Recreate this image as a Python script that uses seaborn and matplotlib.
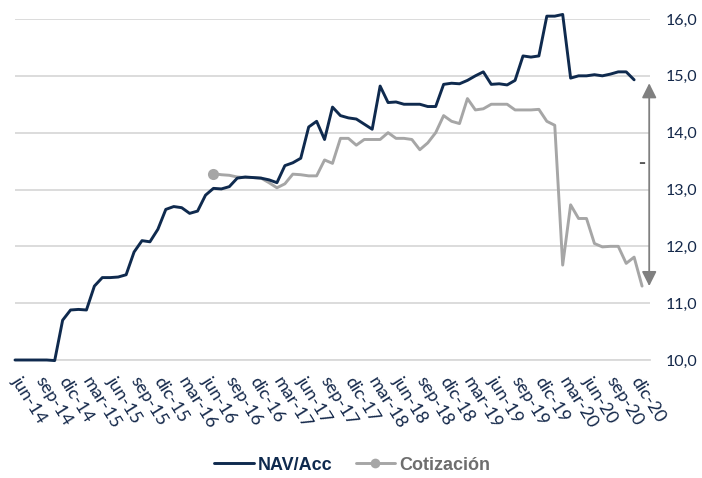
import numpy as np
import pandas as pd
import seaborn as sns
import matplotlib.pyplot as plt
from matplotlib.lines import Line2D
from matplotlib.legend_handler import HandlerLine2D

# monthly values, month 0 = jun-14
nav_values = [10.0, 10.0, 10.0, 10.0, 10.0, 9.99, 10.7, 10.88, 10.89, 10.88,
              11.3, 11.45, 11.45, 11.46, 11.5, 11.9, 12.1, 12.08, 12.3, 12.65,
              12.7, 12.68, 12.58, 12.62, 12.9, 13.02, 13.01, 13.05, 13.2, 13.22,
              13.21, 13.2, 13.17, 13.12, 13.42, 13.47, 13.55, 14.1, 14.2, 13.88,
              14.45, 14.3, 14.26, 14.24, 14.15, 14.06, 14.82, 14.53, 14.54, 14.5,
              14.5, 14.5, 14.46, 14.46, 14.85, 14.87, 14.86, 14.92, 15.0, 15.07,
              14.85, 14.86, 14.84, 14.92, 15.35, 15.33, 15.35, 16.05, 16.05, 16.08,
              14.96, 15.0, 15.0, 15.02, 15.0, 15.03, 15.07, 15.07, 14.93]

# Cotización starts at month 25
cot_start = 25
cot_values = [13.28, 13.26, 13.25, 13.22, 13.21, 13.21, 13.2, 13.12, 13.03, 13.1,
              13.27, 13.26, 13.24, 13.24, 13.52, 13.46, 13.9, 13.9, 13.78, 13.88,
              13.88, 13.88, 14.0, 13.9, 13.9, 13.88, 13.7, 13.82, 14.0, 14.3,
              14.2, 14.16, 14.6, 14.4, 14.42, 14.5, 14.5, 14.5, 14.4, 14.4,
              14.4, 14.41, 14.2, 14.13, 11.67, 12.73, 12.49, 12.49, 12.05, 11.99,
              12.0, 12.0, 11.7, 11.81, 11.3]

tick_labels = ["jun-14", "sep-14", "dic-14", "mar-15", "jun-15", "sep-15", "dic-15",
               "mar-16", "jun-16", "sep-16", "dic-16", "mar-17", "jun-17", "sep-17",
               "dic-17", "mar-18", "jun-18", "sep-18", "dic-18", "mar-19", "jun-19",
               "sep-19", "dic-19", "mar-20", "jun-20", "sep-20", "dic-20"]

nav_df = pd.DataFrame({"mes": np.arange(len(nav_values)), "valor": nav_values})
cot_df = pd.DataFrame({"mes": np.arange(cot_start, cot_start + len(cot_values)),
                       "valor": cot_values})

navy = "#0F2A4E"
gray = "#A6A6A6"
grid = "#D9D9D9"

sns.set_style("white")
plt.rcParams["font.family"] = ["Lato", "DejaVu Sans"]

fig = plt.figure(figsize=(7.02, 4.78), dpi=100)
ax = fig.add_axes([15 / 702, 1 - 360 / 478, 635 / 702, 341 / 478])

sns.lineplot(data=nav_df, x="mes", y="valor", ax=ax, color=navy, lw=2.1,
             clip_on=False, zorder=4)
sns.lineplot(data=cot_df, x="mes", y="valor", ax=ax, color=gray, lw=2.1,
             marker="o", markersize=8, markevery=[0], markeredgewidth=0,
             clip_on=False, zorder=3)

ax.set_xlim(0, 80)
ax.set_ylim(10, 16)
ax.set_yticks(np.arange(10, 16.5, 1))
ax.set_yticklabels([f"{v:.1f}".replace(".", ",") for v in np.arange(10, 16.5, 1)])
ax.yaxis.tick_right()
ax.tick_params(axis="y", length=0, pad=11, labelsize=11.5, labelcolor="#14284A")
ax.grid(axis="y", color=grid, lw=1.3)
ax.set_axisbelow(True)

ax.set_xticks(np.arange(0, 79, 3))
ax.set_xticklabels(tick_labels, rotation=-58, ha="left", va="center",
                   rotation_mode="anchor")
ax.tick_params(axis="x", length=5, width=1.3, color=grid, pad=8,
               labelsize=13, labelcolor="#14284A")
ax.set_xlabel("")
ax.set_ylabel("")
for side in ["top", "left", "right"]:
    ax.spines[side].set_visible(False)
ax.spines["bottom"].set_color(grid)
ax.spines["bottom"].set_linewidth(1.3)

# discount arrow between NAV and price
ax.annotate("", xy=(79.9, 11.3), xytext=(79.9, 14.87),
            arrowprops=dict(arrowstyle="<|-|>", color="#808080", lw=1.3,
                            mutation_scale=22, shrinkA=0, shrinkB=0),
            annotation_clip=False)
ax.text(79.0, 13.48, "-", color="#595959", fontsize=15, fontweight="bold",
        family=["Liberation Sans", "DejaVu Sans"], ha="center", va="center")


class LeftMarker(HandlerLine2D):
    def get_xdata(self, legend, xdescent, ydescent, width, height, fontsize):
        return [-xdescent, -xdescent + width], [-xdescent]


h_nav = Line2D([], [], color=navy, lw=2.1)
h_cot = Line2D([], [], color=gray, lw=2.1, marker="o", markersize=7,
               markeredgewidth=0)
leg = fig.legend([h_nav, h_cot], ["NAV/Acc", "Cotización"], loc="center",
                 bbox_to_anchor=(352 / 702, 1 - 465 / 478), ncol=2, frameon=False,
                 handlelength=2.2, handletextpad=0.2, columnspacing=1.3,
                 prop={"family": ["Liberation Sans", "DejaVu Sans"],
                       "weight": "bold", "size": 13},
                 handler_map={h_cot: LeftMarker()})
leg.get_texts()[0].set_color(navy)
leg.get_texts()[1].set_color("#6E6E6E")

plt.savefig("out.png", dpi=100)
